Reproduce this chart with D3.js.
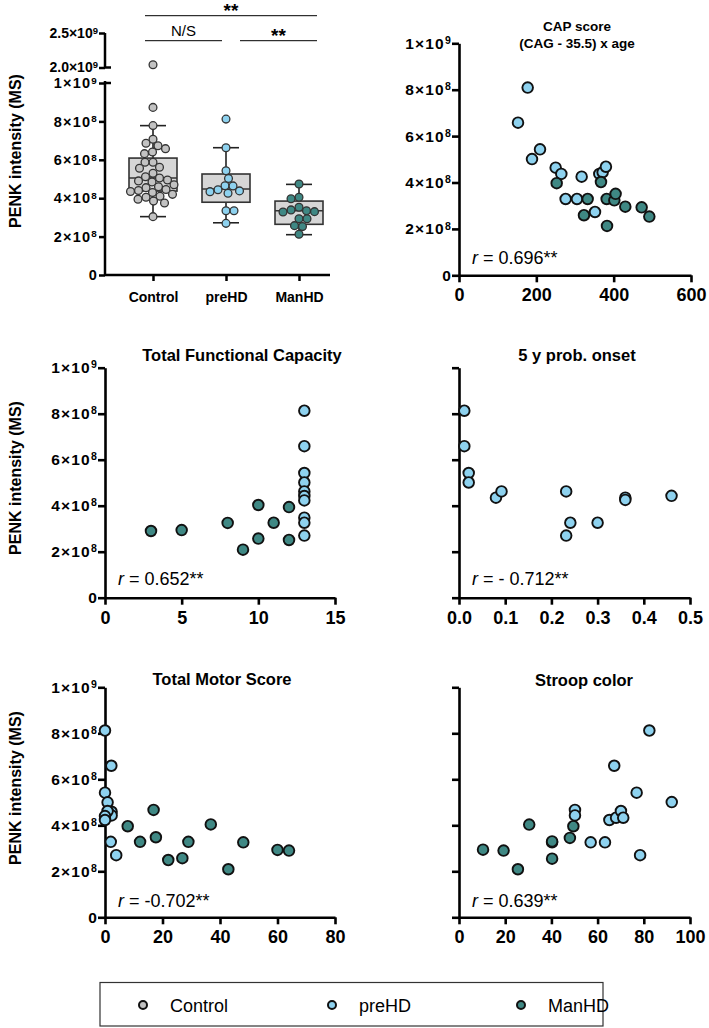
<!DOCTYPE html>
<html><head><meta charset="utf-8">
<script src="https://cdn.jsdelivr.net/npm/d3@7"></script>
<style>
html,body{margin:0;padding:0;background:#fff;}
svg{display:block;font-family:"Liberation Sans",Arial,sans-serif;}
</style></head><body>
<script>
// ---------- DATA (values in units of 1e8) ----------
const categories = ["Control","preHD","ManHD"];
const controlVals = [20.4,8.73,7.78,7.07,6.86,6.73,6.58,6.41,6.32,5.87,5.87,5.61,5.56,5.30,5.12,5.05,4.95,4.90,4.85,4.70,4.60,4.55,4.45,4.40,4.35,4.30,4.20,4.10,4.05,3.95,3.85,3.75,3.04];
const preHDVals = [8.12,6.63,5.43,5.03,4.65,4.64,4.44,4.38,4.34,4.26,3.35,3.35,2.69];
const manHDVals = [4.74,4.05,3.97,3.53,3.39,3.35,3.30,3.28,2.93,2.93,2.57,2.52,2.12];
const boxQ1 = [4.37,3.79,2.64];
const boxMed = [5.05,4.48,3.35];
const boxQ3 = [6.09,5.26,3.85];
const whiskLo = [3.04,2.72,2.10];
const whiskHi = [7.78,6.63,4.72];
const sigPairs = [[0,2],[0,1],[1,2]];
const sigLabels = ["**","N/S","**"];

const yTicksLow = [0,2,4,6,8,10];
const yTicksHigh = [20,25];

// CAP score
const capPre = [[177.6,8.09],[152.6,6.58],[188.8,5.01],[209.5,5.43],[250,4.64],[264.6,4.37],[275.8,3.29],[317.2,4.25],[305.1,3.29],[351.7,2.73],[362.9,4.37],[371.5,4.44],[380,4.68]];
const capMan = [[252.6,3.97],[332.7,3.29],[323.2,2.59],[367.2,4.02],[381.9,3.29],[382.8,2.13],[401.7,3.23],[405,3.51],[430.1,2.96],[472.4,2.93],[492.2,2.53]];
// Total Functional Capacity
const tfcPre = [[13,8.13],[13,6.59],[13,5.42],[13,5.01],[13,4.62],[13,4.42],[13,4.23],[13,3.48],[13,3.26],[13,2.70]];
const tfcMan = [[3,2.90],[5,2.94],[8,3.25],[9,2.09],[10,4.03],[10,2.57],[11,3.26],[12,3.94],[12,2.51]];
// 5 y prob. onset
const probPre = [[0.0115,8.13],[0.0115,6.59],[0.021,5.42],[0.021,5.01],[0.080,4.35],[0.092,4.62],[0.232,4.62],[0.241,3.26],[0.232,2.70],[0.300,3.26],[0.360,4.35],[0.360,4.25],[0.460,4.43]];
// Total Motor Score
const tmsPre = [[0,8.12],[2.2,6.59],[0,5.42],[0.9,5.0],[2.3,4.59],[2.3,4.43],[0.9,4.62],[0,4.4],[0,4.23],[2,3.28],[3.9,2.70]];
const tmsMan = [[7.9,3.96],[12.2,3.28],[16.9,4.67],[17.7,3.48],[22,2.49],[26.9,2.57],[29,3.28],[36.8,4.04],[42.9,2.09],[48.1,3.26],[60,2.93],[64,2.90]];
// Stroop color
const stroopMan = [[10.4,2.94],[19.3,2.90],[25.5,2.09],[30.4,4.03],[40.3,3.26],[40.3,3.30],[40.3,2.55],[48,3.45],[49.5,3.96]];
const stroopPre = [[50.2,4.67],[50.2,4.43],[57,3.26],[63.2,3.26],[65.1,4.23],[67.2,6.59],[68,4.33],[70.1,4.62],[71.1,4.33],[76.9,5.42],[78.4,2.70],[82.4,8.12],[92.1,5.01]];

const panelTitles = ["CAP score","(CAG - 35.5) x age","Total Functional Capacity","5 y prob. onset","Total Motor Score","Stroop color"];
const rTexts = [" = 0.696**"," = 0.652**"," = - 0.712**"," = -0.702**"," = 0.639**"];
const legendLabels = ["Control","preHD","ManHD"];

// ---------- STYLE ----------
const colors = {Control:"#c2c2c2", preHD:"#8ed2ef", ManHD:"#3f8884"};
const W=709, H=1028;
const svg = d3.select("body").append("svg").attr("width",W).attr("height",H);

function supLabel(textSel, base, exp){
  textSel.text(null);
  textSel.append("tspan").text(base);
  if(exp!==null){
    textSel.append("tspan").attr("dy","-0.45em").attr("font-size","0.68em").text(exp);
  }
}
function yFmt(v){ // v in 1e8 units
  if(v===0) return ["0",null];
  if(v>=20) return [(v/10).toFixed(1)+"\u00d710","9"];
  if(v===10) return ["1\u00d710","9"];
  return [v+"\u00d710","8"];
}
function styleAxis(g, sw){
  g.selectAll(".domain").attr("stroke","#000").attr("stroke-width",sw);
  g.selectAll(".tick line").attr("stroke","#000").attr("stroke-width",sw);
  g.selectAll("text").attr("fill","#000").attr("font-weight","bold");
}

// ---------- PANEL 1: box plot ----------
(function(){
  const ax = 105;
  const yLow = d3.scaleLinear().domain([0,10]).range([275,83]);
  const yHigh = d3.scaleLinear().domain([20,25]).range([67.5,33]);
  const yv = v => v>=15 ? yHigh(v) : yLow(v);
  const x = d3.scalePoint().domain(categories).range([153,299]);
  const g = svg.append("g");

  // y axis lower
  const gl = g.append("g").attr("transform",`translate(${ax},0)`)
    .call(d3.axisLeft(yLow).tickValues(yTicksLow).tickSize(6).tickSizeOuter(0));
  gl.select(".domain").attr("d",`M0,${yLow(0)}V${yLow(10)-2}`);
  styleAxis(gl,2.5);
  gl.selectAll("text").attr("font-size",14.5).attr("letter-spacing",1.2).attr("x",-7).each(function(d){const f=yFmt(d); supLabel(d3.select(this),f[0],f[1]);});
  gl.append("line").attr("x1",0).attr("x2",6).attr("y1",yLow(10)).attr("y2",yLow(10)).attr("stroke","#000").attr("stroke-width",2.5);
  // y axis upper
  const gh = g.append("g").attr("transform",`translate(${ax},0)`)
    .call(d3.axisLeft(yHigh).tickValues(yTicksHigh).tickSize(6).tickSizeOuter(0));
  gh.select(".domain").attr("d",`M0,${yHigh(20)}V${yHigh(25)}`);
  styleAxis(gh,2.5);
  gh.selectAll("text").attr("font-size",14).attr("x",-7).each(function(d){const f=yFmt(d); supLabel(d3.select(this),f[0],f[1]);});
  gh.append("line").attr("x1",0).attr("x2",6).attr("y1",yHigh(20)).attr("y2",yHigh(20)).attr("stroke","#000").attr("stroke-width",2.5);

  // x axis
  const gx = g.append("g").attr("transform",`translate(0,${yLow(0)})`)
    .call(d3.axisBottom(x).tickSize(6).tickSizeOuter(0));
  gx.select(".domain").attr("d",`M${ax},0H330`);
  styleAxis(gx,2.5);
  gx.selectAll("text").attr("font-size",14).attr("dy","1.3em");

  // boxes
  const bw = 48, cw = 26;
  categories.forEach((c,i)=>{
    const cx = x(c);
    g.append("line").attr("x1",cx).attr("x2",cx).attr("y1",yLow(whiskLo[i])).attr("y2",yLow(whiskHi[i])).attr("stroke","#222").attr("stroke-width",1.6);
    [whiskLo[i],whiskHi[i]].forEach(v=>g.append("line").attr("x1",cx-cw/2).attr("x2",cx+cw/2).attr("y1",yLow(v)).attr("y2",yLow(v)).attr("stroke","#222").attr("stroke-width",1.6));
    g.append("rect").attr("x",cx-bw/2).attr("width",bw).attr("y",yLow(boxQ3[i])).attr("height",yLow(boxQ1[i])-yLow(boxQ3[i]))
      .attr("fill","#d6d6d6").attr("stroke","#333").attr("stroke-width",1.6);
    g.append("line").attr("x1",cx-bw/2).attr("x2",cx+bw/2).attr("y1",yLow(boxMed[i])).attr("y2",yLow(boxMed[i])).attr("stroke","#333").attr("stroke-width",1.6);
  });

  // swarm points
  const r = 3.9;
  function swarm(vals){
    const order = vals.map((v,i)=>i).sort((a,b)=>vals[b]-vals[a]);
    const placed = [];
    const out = new Array(vals.length);
    order.forEach((idx,k)=>{
      const py = yv(vals[idx]);
      let best=0;
      for(let s=0;s<200;s++){
        const mag = Math.ceil(s/2)*0.5;
        const off = (s%2===0?1:-1)*((k%2)?-1:1)*mag;
        const ok = placed.every(p=>Math.hypot(p[0]-off,p[1]-py) >= 2*r+0.2);
        if(ok){best=off;break;}
      }
      placed.push([best,py]);
      out[idx]=best;
    });
    return out;
  }
  const groups = [controlVals, preHDVals, manHDVals];
  categories.forEach((c,i)=>{
    const offs = swarm(groups[i]);
    g.append("g").selectAll("circle").data(groups[i]).join("circle")
      .attr("cx",(d,j)=>x(c)+offs[j]).attr("cy",d=>yv(d)).attr("r",r)
      .attr("fill",colors[c]).attr("stroke","#333").attr("stroke-width",1.3);
  });

  // significance
  const sigY = [15.7,40.7,40.7];
  sigPairs.forEach((p,i)=>{
    const x1 = p[0]===0 ? x(categories[p[0]])-8 : x(categories[p[0]])+14;
    const x2 = p[1]===2 ? x(categories[p[1]])+18 : x(categories[p[1]])-4;
    g.append("line").attr("x1",x1).attr("x2",x2).attr("y1",sigY[i]).attr("y2",sigY[i]).attr("stroke","#000").attr("stroke-width",1);
    const star = sigLabels[i]==="**";
    g.append("text").attr("x",(x1+x2)/2).attr("y",star ? sigY[i]+1.5 : sigY[i]-5)
      .attr("text-anchor","middle").attr("font-size",star?19:15)
      .attr("font-weight",star?"bold":"normal").text(sigLabels[i]);
  });
})();

// ---------- SCATTER PANELS ----------
function scatter(opts){
  const {ax, x0, y0, y1, xmax, xTicks, xfmt, showY, sets, title, titleY, titleX, rText, rY} = opts;
  const x = d3.scaleLinear().domain([0,xmax]).range([ax,x0]);
  const y = d3.scaleLinear().domain([0,10]).range([y0,y1]);
  const g = svg.append("g");
  const gy = g.append("g").attr("transform",`translate(${ax},0)`)
    .call(d3.axisLeft(y).tickValues(yTicksLow).tickSize(7).tickSizeOuter(0));
  styleAxis(gy,2.6);
  if(showY){
    gy.selectAll("text").attr("font-size",15.5).attr("letter-spacing",1.2).attr("x",-7).each(function(d){const f=yFmt(d); supLabel(d3.select(this),f[0],f[1]);});
  } else gy.selectAll("text").remove();
  const gx = g.append("g").attr("transform",`translate(0,${y0})`)
    .call(d3.axisBottom(x).tickValues(xTicks).tickSize(7).tickSizeOuter(0).tickFormat(xfmt));
  styleAxis(gx,2.6);
  gx.selectAll("text").attr("font-size",18).attr("dy","0.9em");
  sets.forEach(s=>{
    g.append("g").selectAll("circle").data(s.data).join("circle")
      .attr("cx",d=>x(d[0])).attr("cy",d=>y(d[1])).attr("r",5.3)
      .attr("fill",colors[s.cat]).attr("stroke","#111").attr("stroke-width",1.9);
  });
  title.forEach((t,i)=>{
    g.append("text").attr("x",titleX).attr("y",titleY+i*17).attr("text-anchor","middle")
      .attr("font-weight","bold").attr("font-size",title.length>1?13.5:16.5).text(t);
  });
  const rt = g.append("text").attr("x",ax+13).attr("y",rY).attr("font-size",18);
  rt.append("tspan").attr("font-style","italic").text("r");
  rt.append("tspan").text(rText);
}

scatter({ax:459,x0:691,y0:275.3,y1:43.3,xmax:600,xTicks:[0,200,400,600],xfmt:d3.format("d"),showY:true,
  sets:[{cat:"preHD",data:capPre},{cat:"ManHD",data:capMan}],title:[panelTitles[0],panelTitles[1]],titleY:31,titleX:577,rText:rTexts[0],rY:264});
scatter({ax:105,x0:335,y0:597.7,y1:367.7,xmax:15,xTicks:[0,5,10,15],xfmt:d3.format("d"),showY:true,
  sets:[{cat:"ManHD",data:tfcMan},{cat:"preHD",data:tfcPre}],title:[panelTitles[2]],titleY:361,titleX:242,rText:rTexts[1],rY:585});
scatter({ax:459,x0:690,y0:597.7,y1:367.7,xmax:0.5,xTicks:[0,0.1,0.2,0.3,0.4,0.5],xfmt:d3.format(".1f"),showY:false,
  sets:[{cat:"preHD",data:probPre}],title:[panelTitles[3]],titleY:361,titleX:577,rText:rTexts[2],rY:585});
scatter({ax:105,x0:335,y0:917.3,y1:687.3,xmax:80,xTicks:[0,20,40,60,80],xfmt:d3.format("d"),showY:true,
  sets:[{cat:"preHD",data:tmsPre},{cat:"ManHD",data:tmsMan}],title:[panelTitles[4]],titleY:685,titleX:222,rText:rTexts[3],rY:907});
scatter({ax:459,x0:690,y0:917.3,y1:687.3,xmax:100,xTicks:[0,20,40,60,80,100],xfmt:d3.format("d"),showY:false,
  sets:[{cat:"ManHD",data:stroopMan},{cat:"preHD",data:stroopPre}],title:[panelTitles[5]],titleY:686,titleX:584,rText:rTexts[4],rY:907});

// y axis titles
[151,478,788].forEach(cy=>{
  svg.append("text").attr("transform",`translate(21,${cy}) rotate(-90)`).attr("text-anchor","middle")
    .attr("font-weight","bold").attr("font-size",16).text("PENK intensity (MS)");
});

// ---------- LEGEND ----------
const lg = svg.append("g");
lg.append("rect").attr("x",100).attr("y",982.5).attr("width",503).attr("height",43.5).attr("fill","none").attr("stroke","#333").attr("stroke-width",1.2);
const lx = d3.scalePoint().domain(legendLabels).range([143,521]);
legendLabels.forEach(l=>{
  lg.append("circle").attr("cx",lx(l)).attr("cy",1005).attr("r",4).attr("fill",colors[l]).attr("stroke","#111").attr("stroke-width",2);
  lg.append("text").attr("x",lx(l)+27).attr("y",1011.5).attr("font-size",18).text(l);
});
</script>
</body></html>
